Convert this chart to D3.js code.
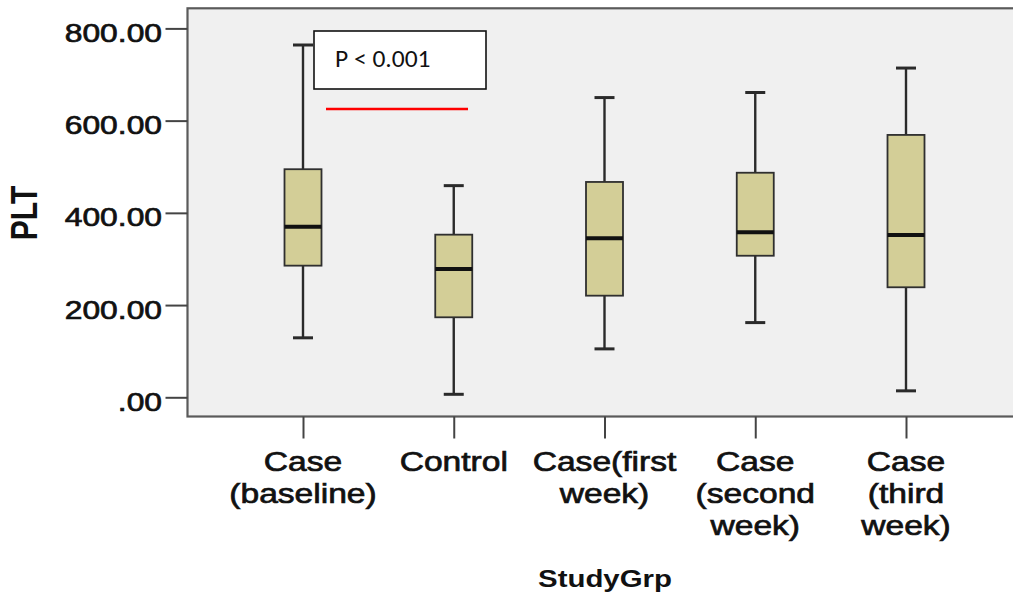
<!DOCTYPE html>
<html>
<head>
<meta charset="utf-8">
<script src="https://cdn.jsdelivr.net/npm/d3@7"></script>
<style>
  body { margin: 0; background: #ffffff; }
  text { font-family: "Liberation Sans", Arial, sans-serif; fill: #111; }
  .heavy { stroke: #111; stroke-width: 0.7px; }
</style>
</head>
<body>
<svg id="chart" width="1013" height="596"></svg>
<script>
// Platelet counts (PLT) per study group: five-number summaries
const categories = ["baseline", "control", "week1", "week2", "week3"];
const categoryLabels = [
  ["Case", "(baseline)"],
  ["Control"],
  ["Case(first", "week)"],
  ["Case", "(second", "week)"],
  ["Case", "(third", "week)"]
];
const whiskerLow  = [129,   6.5, 105,   162, 14];
const q1          = [285.5, 173.5, 220.4, 307, 238.6];
const median      = [370,   278,   345,   358, 352];
const q3          = [494.6, 352.7, 467,   487, 569];
const whiskerHigh = [764,   459,   650,   661, 714];
const yTicks = [0, 200, 400, 600, 800];
const yTitle = "PLT";
const xTitle = "StudyGrp";
const pValueText = "P < 0.001";

const svg = d3.select("#chart");
const SX = 1.2; // horizontal stretch of the SPSS text

const frame = { left: 187.5, right: 1021, top: 8.3, bottom: 416.5 };

const y = d3.scaleLinear().domain([0, 800]).range([397.3, 28.4]);
const x = d3.scalePoint().domain(categories).range([303, 906]);

const boxes = categories.map((c, i) => ({
  key: c, lo: whiskerLow[i], q1: q1[i], med: median[i], q3: q3[i], hi: whiskerHigh[i]
}));

// plot background and frame
svg.append("rect")
  .attr("x", frame.left).attr("y", frame.top)
  .attr("width", frame.right - frame.left).attr("height", frame.bottom - frame.top)
  .attr("fill", "#f0f0f0").attr("stroke", "#5a5a5a").attr("stroke-width", 2.2);

// y axis ticks
const yAxis = d3.axisLeft(y).tickValues(yTicks).tickSize(22).tickFormat("");
svg.append("g").attr("transform", `translate(${frame.left},0)`).call(yAxis)
  .call(g => g.select(".domain").remove())
  .call(g => g.selectAll(".tick line").attr("stroke", "#444").attr("stroke-width", 2));

const fmt = v => d3.format(".2f")(v).replace(/^0\./, ".");
svg.append("g").selectAll("text").data(yTicks).join("text")
  .attr("class", "heavy")
  .attr("transform", d => `translate(162,${y(d) + 13.5}) scale(${SX},1)`)
  .attr("text-anchor", "end")
  .attr("font-size", 26.5)
  .text(fmt);

// x axis ticks
const xAxis = d3.axisBottom(x).tickSize(22).tickFormat("");
svg.append("g").attr("transform", `translate(0,${frame.bottom})`).call(xAxis)
  .call(g => g.select(".domain").remove())
  .call(g => g.selectAll(".tick line").attr("stroke", "#444").attr("stroke-width", 2));

const catG = svg.append("g").selectAll("g").data(categories).join("g");
catG.each(function (c, i) {
  d3.select(this).selectAll("text").data(categoryLabels[i]).join("text")
    .attr("class", "heavy")
    .attr("transform", (d, j) => `translate(${x(c)},${470.7 + j * 32}) scale(${SX},1)`)
    .attr("text-anchor", "middle")
    .attr("font-size", 28)
    .text(d => d);
});

// axis titles
svg.append("text")
  .attr("transform", `translate(605,587) scale(${SX},1)`)
  .attr("text-anchor", "middle")
  .attr("font-size", 24.5).attr("font-weight", "bold")
  .text(xTitle);

svg.append("text")
  .attr("transform", `translate(37,213) scale(${SX},1) rotate(-90)`)
  .attr("text-anchor", "middle")
  .attr("font-size", 30).attr("font-weight", "bold")
  .text(yTitle);

// box plots
const boxW = 37, capW = 20;
const bg = svg.append("g").selectAll("g").data(boxes).join("g")
  .attr("transform", d => `translate(${x(d.key)},0)`);

bg.append("line").attr("x1", 0).attr("x2", 0)
  .attr("y1", d => y(d.hi)).attr("y2", d => y(d.q3))
  .attr("stroke", "#2a2a2a").attr("stroke-width", 2.4);
bg.append("line").attr("x1", 0).attr("x2", 0)
  .attr("y1", d => y(d.q1)).attr("y2", d => y(d.lo))
  .attr("stroke", "#2a2a2a").attr("stroke-width", 2.4);
bg.append("line").attr("x1", -capW / 2).attr("x2", capW / 2)
  .attr("y1", d => y(d.hi)).attr("y2", d => y(d.hi))
  .attr("stroke", "#2a2a2a").attr("stroke-width", 3);
bg.append("line").attr("x1", -capW / 2).attr("x2", capW / 2)
  .attr("y1", d => y(d.lo)).attr("y2", d => y(d.lo))
  .attr("stroke", "#2a2a2a").attr("stroke-width", 3);
bg.append("rect")
  .attr("x", -boxW / 2).attr("width", boxW)
  .attr("y", d => y(d.q3)).attr("height", d => y(d.q1) - y(d.q3))
  .attr("fill", "#d3ce97").attr("stroke", "#2f2f2f").attr("stroke-width", 1.8);
bg.append("line").attr("x1", -boxW / 2).attr("x2", boxW / 2)
  .attr("y1", d => y(d.med)).attr("y2", d => y(d.med))
  .attr("stroke", "#111").attr("stroke-width", 4);

// significance annotation
svg.append("rect")
  .attr("x", 314).attr("y", 31).attr("width", 172).attr("height", 58)
  .attr("fill", "#ffffff").attr("stroke", "#111").attr("stroke-width", 1.6);
svg.append("text")
  .attr("x", 335).attr("y", 67)
  .attr("font-size", 25.5)
  .style("font-family", "Carlito, 'Liberation Sans', Arial, sans-serif")
  .text(pValueText);
svg.append("line")
  .attr("x1", 326).attr("x2", 468).attr("y1", 109).attr("y2", 109)
  .attr("stroke", "#ff0000").attr("stroke-width", 2.6);
</script>
</body>
</html>
